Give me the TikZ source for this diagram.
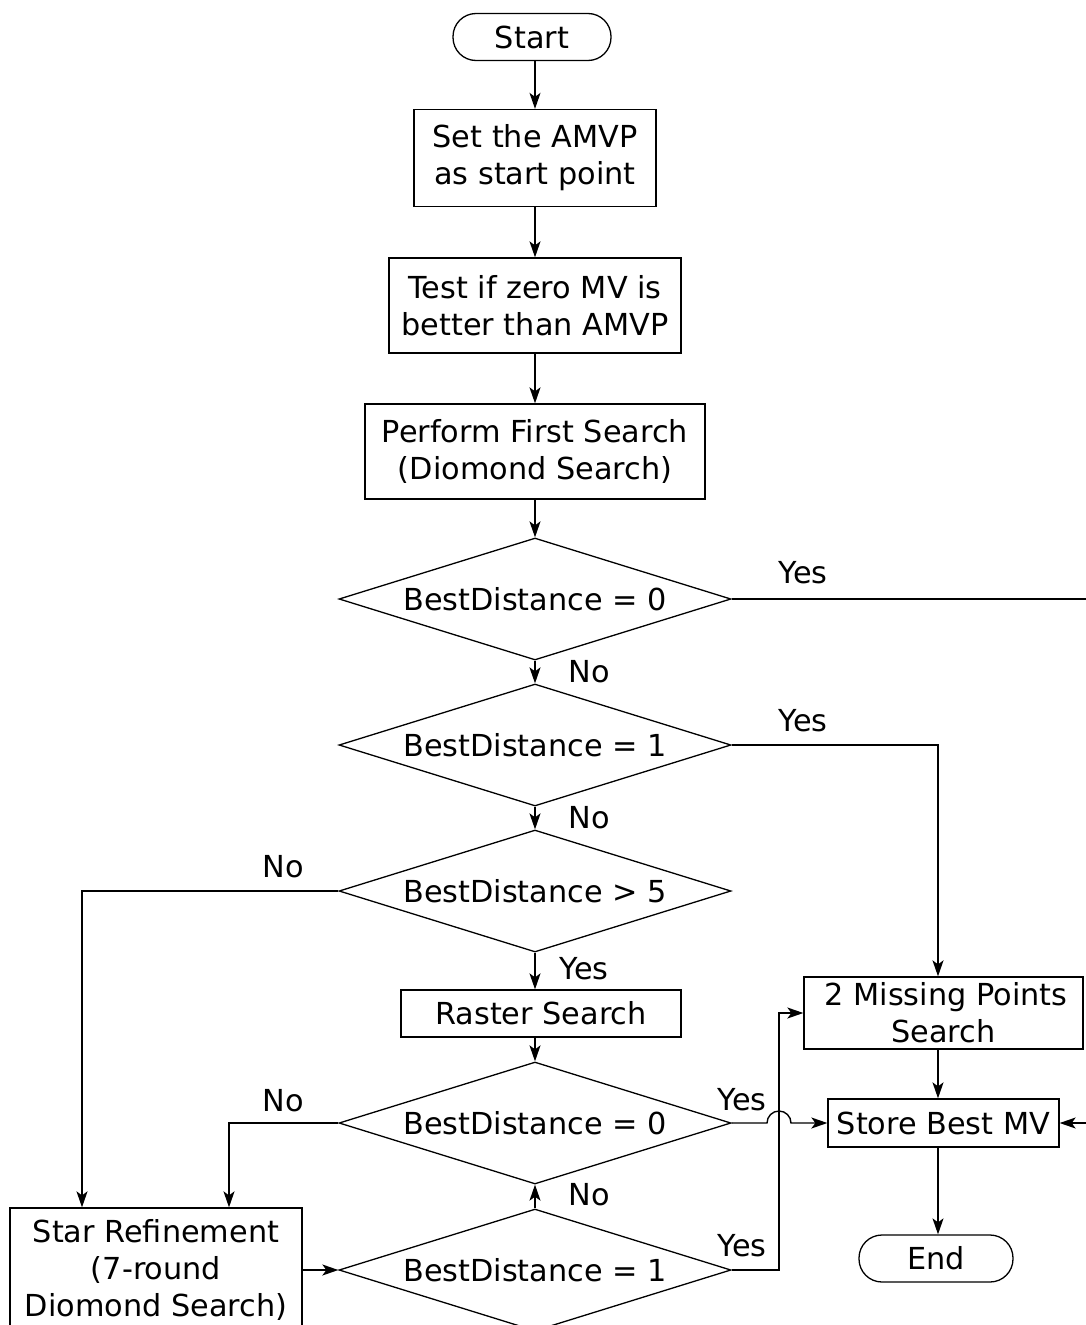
\documentclass[tikz,border=0pt]{standalone}
\usepackage{fontspec}
\setmainfont{DejaVu Sans}
\usetikzlibrary{shapes.geometric,arrows.meta}
\begin{document}
\begin{tikzpicture}[x=1pt,y=-1pt,
  font=\fontsize{30.3}{37}\selectfont,
  proc/.style={draw, line width=1.3pt, align=center, inner sep=0pt},
  term/.style={draw, line width=1.3pt, rounded corners=23pt, minimum height=47pt, inner sep=0pt},
  decision/.style={draw, diamond, line width=1.3pt, aspect=3.2, minimum width=392pt, minimum height=122pt, inner sep=0pt},
  flow/.style={draw, line width=1.4pt, -{Stealth[length=16pt,width=11pt,inset=4pt]}},
  lbl/.style={anchor=base, inner sep=0pt}
]
\useasboundingbox (0,0) rectangle (1086,1325);
\clip (0,0) rectangle (1086,1325);

% main column
\node[term, minimum width=158pt] (start) at (532,37) {Start};
\node[proc, minimum width=242pt, minimum height=97pt] (box1) at (535,158) {Set the AMVP\\as start point};
\node[proc, minimum width=292pt, minimum height=95pt] (box2) at (535,305.5) {Test if zero MV is\\better than AMVP};
\node[proc, minimum width=340pt, minimum height=95pt] (box3) at (535,451.5) {Perform First Search\\(Diomond Search)};
\node[decision] (d1) at (535,599) {BestDistance = 0};
\node[decision] (d2) at (535,745) {BestDistance = 1};
\node[decision] (d3) at (535,891) {BestDistance > 5};
\node[proc, minimum width=280pt, minimum height=47pt] (raster) at (541,1013.5) {Raster Search};
\node[decision] (d4) at (535,1123) {BestDistance = 0};
\node[decision] (d5) at (535,1270) {BestDistance = 1};

% side boxes
\node[proc, minimum width=292pt, minimum height=124pt] (star) at (156,1270) {Star Refinement\\(7-round\\Diomond Search)};
\node[proc, minimum width=279pt, minimum height=72pt] (miss) at (943.5,1013) {\,2 Missing Points\\Search};
\node[proc, minimum width=231pt, minimum height=48pt] (store) at (943.5,1123) {Store Best MV};
\node[term, minimum width=154pt] (end) at (936,1258.5) {End};

% routing columns
\coordinate (rc) at (938,0);
\coordinate (jc) at (779,0);
\coordinate (lc1) at (82,0);
\coordinate (lc2) at (229,0);
\coordinate (ec) at (1100,0);

% connectors
\draw[flow] (box1.north |- start.south) -- (box1.north);
\draw[flow] (box1.south) -- (box2.north);
\draw[flow] (box2.south) -- (box3.north);
\draw[flow] (box3.south) -- (d1.north);
\draw[flow] (d1.south) -- (d2.north);
\draw[flow] (d2.south) -- (d3.north);
\draw[flow] (d3.south) -- (d3.south |- raster.north);
\draw[flow] (d4.north |- raster.south) -- (d4.north);
\draw[flow] (d5.north) -- (d4.south);
\draw[flow] (d1.east) -| (ec |- store.east) -- (store.east);
\draw[flow] (d2.east) -| (rc |- miss.north);
\draw[flow] (rc |- miss.south) -- (rc |- store.north);
\draw[flow] (rc |- store.south) -- (rc |- end.north);
\draw[flow] (d3.west) -| (lc1 |- star.north);
\draw[flow] (d4.west) -| (lc2 |- star.north);
\draw[flow] (d4.east) -- ([xshift=-12pt]jc |- d4.east) arc[start angle=180, end angle=0, radius=12pt] -- (store.west);
\draw[flow] (d5.east) -| (jc |- miss.west) -- (miss.west);
\draw[flow] (star.east) -- (star.east -| d5.west);

% branch labels
\node[lbl] (y1) at (803,583) {Yes};
\node[lbl] (n1) at (589,682) {No};
\node[lbl] (y2) at (803,731) {Yes};
\node[lbl] (n2) at (589,828) {No};
\node[lbl] (n3) at (283,877) {No};
\node[lbl] (y3) at (584,979) {Yes};
\node[lbl] (n4) at (283,1111) {No};
\node[lbl] (y4) at (742,1110) {Yes};
\node[lbl] (n5) at (589,1205) {No};
\node[lbl] (y5) at (742,1256) {Yes};
\end{tikzpicture}
\end{document}
